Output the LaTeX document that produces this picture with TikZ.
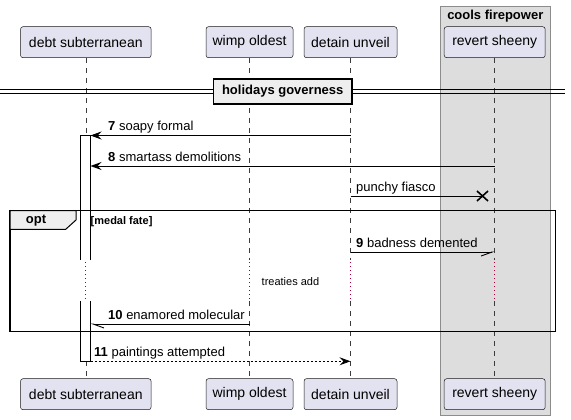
\documentclass[tikz,border=0pt]{standalone}
\usepackage{fontspec}
\setmainfont{Liberation Sans}
\usetikzlibrary{arrows.meta}
\definecolor{partfill}{HTML}{E2E2F0}
\definecolor{partdraw}{HTML}{181818}
\definecolor{boxfill}{HTML}{DDDDDD}
\definecolor{boxdraw}{HTML}{8C8C8C}
\definecolor{tabfill}{HTML}{EEEEEE}
\definecolor{delaycol}{HTML}{A80036}
\begin{document}
\begin{tikzpicture}[x=1pt,y=-1pt,
  part/.style={draw=partdraw, fill=partfill, rounded corners=2.5pt, line width=0.5pt,
    minimum height=31pt, inner sep=0pt, font=\fontsize{14}{16}\selectfont},
  life/.style={draw=partdraw!85, line width=0.55pt, dash pattern=on 5pt off 5pt},
  delay/.style={draw=delaycol, line width=0.9pt, dash pattern=on 1pt off 3pt},
  msg/.style={draw=black, line width=0.9pt},
  fullhead/.style={-{Stealth[length=11pt,width=8pt,inset=4pt]}},
  lbl/.style={inner sep=0pt, anchor=base west, font=\fontsize{13}{15}\selectfont},
  boldlbl/.style={inner sep=0pt, font=\bfseries\fontsize{13}{15}\selectfont},
  note/.style={inner sep=0pt, font=\fontsize{11}{13}\selectfont},
]
\useasboundingbox (0,0) rectangle (571,420);
% group box
\draw[fill=boxfill, draw=boxdraw, line width=0.8pt] (440.7,6) rectangle (550,415);
\node[boldlbl] (gtitle) at (495.3,16) {cools firepower};
% participants
\node[part, minimum width=130.6pt] (p1) at (85.8,42.2) {debt subterranean};
\node[part, minimum width=87pt]    (p2) at (249.5,42.2) {wimp oldest};
\node[part, minimum width=93pt]    (p3) at (350.5,42.2) {detain unveil};
\node[part, minimum width=101pt]   (p4) at (494.7,42.2) {revert sheeny};
\node[part, minimum width=130.6pt] (q1) at (85.8,394.2) {debt subterranean};
\node[part, minimum width=87pt]    (q2) at (249.5,394.2) {wimp oldest};
\node[part, minimum width=93pt]    (q3) at (350.5,394.2) {detain unveil};
\node[part, minimum width=101pt]   (q4) at (494.7,394.2) {revert sheeny};
% delay coordinates
\coordinate (dtop) at (0,260);
\coordinate (dbot) at (0,301);
% lifelines
\foreach \i in {1,2,3,4}{
  \draw[life] (p\i.south) -- (p\i.south |- dtop);
  \draw[delay] ([yshift=-2pt]p\i.south |- dtop) -- (p\i.south |- dbot);
  \draw[life] (p\i.south |- dbot) -- (q\i.north);
}
% divider
\draw[line width=1pt] (0,90) -- (565,90);
\draw[line width=1pt] (0,93.6) -- (565,93.6);
\node[draw, line width=1.8pt, fill=tabfill, minimum width=138.5pt, minimum height=25.5pt,
  inner sep=0pt, font=\bfseries\fontsize{13}{15}\selectfont] (div) at (282.7,91.4) {holidays governess};
% activation bar
\fill[white] (80.5,135.5) rectangle (90.5,260);
\draw[line width=0.9pt] (80.5,260) -- (80.5,135.5) -- (90.5,135.5) -- (90.5,260);
\fill[white] (80.5,301) rectangle (90.5,361.3);
\draw[line width=0.9pt] (80.5,301) -- (80.5,361.3) -- (90.5,361.3) -- (90.5,301);
\coordinate (bar) at (90.5,0);
% opt frame
\draw[line width=1.5pt] (10,210.7) rectangle (555.5,331.7);
\draw[fill=tabfill, line width=1pt] (10,210.7) -- (76,210.7) -- (76,220) -- (65.7,229.3) -- (10,229.3) -- cycle;
\node[boldlbl] (opt) at (36,221) {opt};
\node[inner sep=0pt, anchor=west, font=\bfseries\fontsize{11}{13}\selectfont] (guard) at (90.5,222) {[medal fate]};
% message rows
\coordinate (m7) at (0,135.5);
\coordinate (m8) at (0,166);
\coordinate (m9) at (0,252);
\coordinate (m10) at (0,324);
\coordinate (m11) at (0,361.3);
\coordinate (xm) at (482.5,196);
% messages
\draw[msg, fullhead] (p3 |- m7) -- (bar |- m7);
\node[lbl] (t7) at (108,131) {\textbf{7} soapy formal};
\draw[msg, fullhead] (p4 |- m8) -- (bar |- m8);
\node[lbl] (t8) at (108,161.5) {\textbf{8} smartass demolitions};
\draw[msg] (p3 |- xm) -- (xm);
\draw[line width=1.6pt] ([shift={(-5.5,-5)}]xm) -- ([shift={(5.5,5)}]xm);
\draw[line width=1.6pt] ([shift={(-5.5,5)}]xm) -- ([shift={(5.5,-5)}]xm);
\node[lbl] (tp) at (356,191.5) {punchy fiasco};
\draw[msg, -{Straight Barb[right,length=11pt,width=8pt]}] (p3 |- m9) -- (p4 |- m9);
\node[lbl] (t9) at (356,247.5) {\textbf{9} badness demented};
\node[note, anchor=west] (td) at (261.5,281.7) {treaties add};
\draw[msg, -{Straight Barb[left,length=11pt,width=8pt]}] (p2 |- m10) -- (bar |- m10);
\node[lbl] (t10) at (108,319.5) {\textbf{10} enamored molecular};
\draw[msg, fullhead, dash pattern=on 2pt off 2pt] (bar |- m11) -- (p3 |- m11);
\node[lbl] (t11) at (94,356.8) {\textbf{11} paintings attempted};
\end{tikzpicture}
\end{document}
